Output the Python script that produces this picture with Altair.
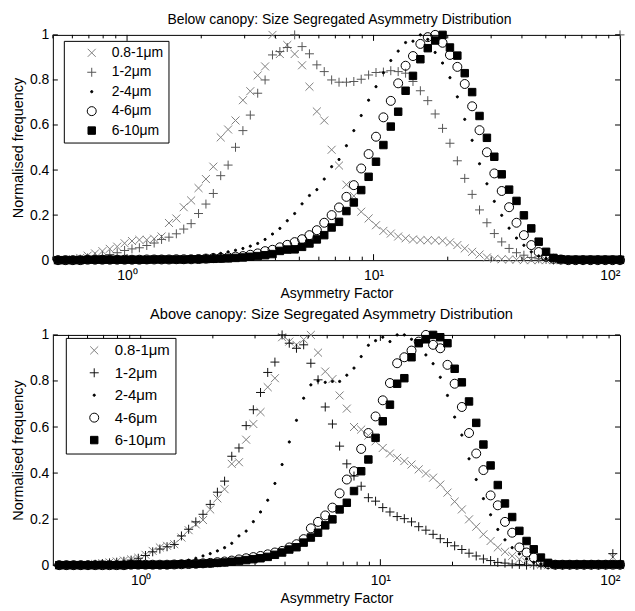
import altair as alt
import pandas as pd

# Asymmetry-factor bin centres (log-spaced bins)
X_BINS = [0.4571, 0.4898, 0.5248, 0.5623, 0.6026, 0.6457, 0.6918, 0.7413, 0.7943, 0.8511,
          0.9120, 0.9772, 1.0471, 1.1220, 1.2023, 1.2882, 1.3804, 1.4791, 1.5849, 1.6982,
          1.8197, 1.9498, 2.0893, 2.2387, 2.3988, 2.5704, 2.7542, 2.9512, 3.1623, 3.3884,
          3.6308, 3.8905, 4.1687, 4.4668, 4.7863, 5.1286, 5.4954, 5.8884, 6.3096, 6.7608,
          7.2444, 7.7625, 8.3176, 8.9125, 9.5499, 10.233, 10.965, 11.749, 12.589, 13.490,
          14.454, 15.488, 16.596, 17.783, 19.055, 20.417, 21.878, 23.442, 25.119, 26.915,
          28.840, 30.903, 33.113, 35.481, 38.019, 40.738, 43.652, 46.774, 50.119, 53.703,
          57.544, 61.660, 66.069, 70.795, 75.858, 81.283, 87.096, 93.325, 100.0]

SERIES = ["0.8-1\u03bcm", "1-2\u03bcm", "2-4\u03bcm", "4-6\u03bcm", "6-10\u03bcm"]

# ---- Below canopy ----
BELOW_X = [0, 0, 0, 0, 0.005, 0.01, 0.02, 0.03, 0.04, 0.05,
           0.06, 0.075, 0.085, 0.09, 0.09, 0.095, 0.105, 0.165, 0.185, 0.235,
           0.265, 0.32, 0.36, 0.415, 0.545, 0.58, 0.62, 0.71, 0.75, 0.82,
           0.86, 1.0, 0.915, 0.955, 0.915, 0.865, 0.77, 0.66, 0.62, 0.49,
           0.42, 0.335, 0.285, 0.215, 0.185, 0.155, 0.13, 0.118, 0.105, 0.097,
           0.092, 0.089, 0.088, 0.088, 0.086, 0.079, 0.067, 0.052, 0.037, 0.025,
           0.012, 0.006, 0.004, 0.003, 0.002, 0, 0, 0, 0, 0,
           0, 0, 0, 0, 0, 0, 0, 0, 0]
BELOW_P = [0, 0, 0, 0, 0, 0.005, 0.01, 0.015, 0.02, 0.025,
           0.033, 0.043, 0.05, 0.055, 0.065, 0.076, 0.092, 0.102, 0.117, 0.138,
           0.162, 0.207, 0.249, 0.296, 0.375, 0.422, 0.501, 0.575, 0.644, 0.741,
           0.80, 0.911, 0.926, 0.944, 1.0, 0.948, 0.916, 0.867, 0.837, 0.80,
           0.79, 0.79, 0.793, 0.803, 0.822, 0.833, 0.835, 0.841, 0.837, 0.83,
           0.793, 0.752, 0.708, 0.649, 0.585, 0.519, 0.441, 0.363, 0.292, 0.223,
           0.166, 0.118, 0.081, 0.052, 0.033, 0.022, 0.012, 0.006, 0.003, 0,
           0, 0, 0, 0, 0, 0, 0, 0, 1.0]
BELOW_D = [0, 0, 0, 0, 0, 0, 0, 0, 0, 0,
           0.002, 0.002, 0.002, 0.003, 0.003, 0.004, 0.005, 0.007, 0.009, 0.011,
           0.014, 0.017, 0.02, 0.025, 0.03, 0.037, 0.044, 0.052, 0.062, 0.074,
           0.092, 0.116, 0.141, 0.175, 0.207, 0.25, 0.287, 0.313, 0.36, 0.415,
           0.447, 0.508, 0.575, 0.642, 0.71, 0.77, 0.832, 0.886, 0.928, 0.966,
           0.972, 1.0, 0.98, 0.922, 0.875, 0.81, 0.725, 0.625, 0.532, 0.428,
           0.339, 0.261, 0.199, 0.142, 0.098, 0.066, 0.037, 0.018, 0.007, 0.003,
           0, 0, 0, 0, 0, 0, 0, 0, 0]
BELOW_C = [0, 0, 0, 0, 0, 0, 0.002, 0.002, 0.002, 0.002,
           0.002, 0.002, 0.002, 0.002, 0.003, 0.003, 0.003, 0.003, 0.004, 0.004,
           0.004, 0.005, 0.007, 0.009, 0.011, 0.013, 0.016, 0.018, 0.024, 0.03,
           0.04, 0.046, 0.057, 0.068, 0.08, 0.093, 0.111, 0.133, 0.166, 0.20,
           0.234, 0.281, 0.333, 0.407, 0.471, 0.548, 0.634, 0.707, 0.785, 0.863,
           0.906, 0.96, 0.99, 1.0, 0.965, 0.911, 0.858, 0.782, 0.683, 0.577,
           0.479, 0.385, 0.307, 0.235, 0.166, 0.111, 0.067, 0.036, 0.015, 0.006,
           0.003, 0, 0, 0, 0, 0, 0, 0, 0]
BELOW_S = [0, 0, 0, 0, 0, 0, 0.002, 0.002, 0.002, 0.002,
           0.002, 0.002, 0.002, 0.002, 0.002, 0.003, 0.003, 0.003, 0.003, 0.003,
           0.004, 0.004, 0.005, 0.006, 0.007, 0.008, 0.01, 0.012, 0.015, 0.018,
           0.022, 0.027, 0.041, 0.047, 0.048, 0.059, 0.074, 0.092, 0.111, 0.145,
           0.17, 0.218, 0.256, 0.311, 0.37, 0.437, 0.511, 0.593, 0.659, 0.752,
           0.818, 0.892, 0.941, 0.975, 1.0, 0.944, 0.908, 0.83, 0.746, 0.64,
           0.543, 0.459, 0.381, 0.313, 0.263, 0.199, 0.141, 0.082, 0.037, 0.01,
           0.004, 0.002, 0.002, 0.002, 0.002, 0.002, 0.002, 0.002, 0.002]

# ---- Above canopy ----
ABOVE_X = [0, 0, 0, 0, 0, 0.005, 0.008, 0.012, 0.016, 0.02,
           0.025, 0.032, 0.045, 0.062, 0.077, 0.084, 0.091, 0.12, 0.152, 0.177,
           0.196, 0.242, 0.29, 0.33, 0.44, 0.447, 0.545, 0.613, 0.665, 0.773,
           0.812, 0.99, 0.971, 0.957, 0.98, 1.0, 0.923, 0.841, 0.808, 0.737,
           0.68, 0.60, 0.589, 0.563, 0.538, 0.509, 0.485, 0.466, 0.452, 0.437,
           0.416, 0.398, 0.38, 0.35, 0.315, 0.276, 0.242, 0.199, 0.167, 0.134,
           0.105, 0.077, 0.058, 0.04, 0.026, 0.013, 0.005, 0.002, 0, 0,
           0, 0, 0, 0, 0, 0, 0, 0.035, 0]
ABOVE_P = [0, 0, 0, 0, 0, 0.004, 0.007, 0.01, 0.013, 0.017,
           0.022, 0.03, 0.042, 0.058, 0.07, 0.08, 0.09, 0.127, 0.156, 0.188,
           0.221, 0.264, 0.317, 0.365, 0.473, 0.509, 0.606, 0.675, 0.75, 0.837,
           0.882, 1.0, 0.964, 0.942, 0.957, 0.877, 0.805, 0.687, 0.613, 0.517,
           0.44, 0.387, 0.343, 0.293, 0.278, 0.25, 0.231, 0.211, 0.202, 0.188,
           0.167, 0.152, 0.134, 0.115, 0.098, 0.084, 0.068, 0.052, 0.04, 0.027,
           0.02, 0.012, 0.009, 0.005, 0.003, 0, 0, 0, 0, 0,
           0, 0, 0, 0, 0, 0, 0, 0.05, 0]
ABOVE_D = [0, 0, 0, 0, 0, 0, 0, 0, 0, 0,
           0.002, 0.003, 0.004, 0.006, 0.008, 0.01, 0.013, 0.017, 0.022, 0.03,
           0.04, 0.05, 0.062, 0.076, 0.095, 0.127, 0.148, 0.189, 0.231, 0.282,
           0.355, 0.437, 0.535, 0.629, 0.725, 0.783, 0.80, 0.794, 0.798, 0.798,
           0.825, 0.856, 0.906, 0.955, 0.975, 0.99, 0.971, 1.0, 1.0, 0.981,
           0.96, 0.913, 0.875, 0.816, 0.737, 0.643, 0.565, 0.462, 0.372, 0.289,
           0.219, 0.155, 0.11, 0.076, 0.049, 0.027, 0.012, 0.005, 0.002, 0,
           0, 0, 0, 0, 0, 0, 0, 0, 0]
ABOVE_C = [0, 0, 0, 0, 0, 0, 0, 0, 0, 0,
           0.002, 0.002, 0.002, 0.002, 0.002, 0.002, 0.003, 0.004, 0.005, 0.006,
           0.008, 0.01, 0.013, 0.016, 0.02, 0.025, 0.03, 0.035, 0.04, 0.047,
           0.055, 0.062, 0.077, 0.091, 0.113, 0.16, 0.188, 0.216, 0.25, 0.312,
           0.372, 0.408, 0.505, 0.574, 0.646, 0.716, 0.791, 0.877, 0.903, 0.932,
           0.971, 1.0, 0.957, 0.942, 0.87, 0.788, 0.687, 0.574, 0.485, 0.413,
           0.303, 0.26, 0.188, 0.141, 0.077, 0.055, 0.033, 0.012, 0.005, 0.002,
           0.002, 0.002, 0.002, 0.002, 0.002, 0.002, 0.002, 0.002, 0.002]
ABOVE_S = [0, 0, 0, 0, 0, 0, 0, 0, 0, 0,
           0.002, 0.002, 0.002, 0.002, 0.002, 0.002, 0.003, 0.004, 0.005, 0.006,
           0.007, 0.008, 0.01, 0.012, 0.015, 0.018, 0.022, 0.026, 0.03, 0.036,
           0.045, 0.055, 0.068, 0.078, 0.098, 0.12, 0.141, 0.173, 0.199, 0.242,
           0.271, 0.322, 0.408, 0.459, 0.553, 0.625, 0.697, 0.788, 0.812, 0.903,
           0.964, 0.981, 1.0, 0.99, 0.964, 0.853, 0.794, 0.711, 0.618, 0.524,
           0.433, 0.348, 0.268, 0.209, 0.149, 0.105, 0.069, 0.033, 0.01, 0.003,
           0.003, 0.003, 0.003, 0.003, 0.003, 0.003, 0.003, 0.003, 0.003]

X_TICK_VALUES = [1, 10, 100]
X_TICK_LABELS = ["10\u2070", "10\u00b9", "10\u00b2"]
Y_TICK_VALUES = [0, 0.2, 0.4, 0.6, 0.8, 1]
X_MINOR = [0.5, 0.6, 0.7, 0.8, 0.9, 2, 3, 4, 5, 6, 7, 8, 9,
           20, 30, 40, 50, 60, 70, 80, 90]
X_MAJOR = [1, 10]

FONT = "Liberation Sans"
XPATH = "M-1,-1L1,1M-1,1L1,-1"
PPATH = "M-1,0L1,0M0,-1L0,1"

label_expr = "datum.value == %g ? '%s' : datum.value == %g ? '%s' : '%s'" % (
    X_TICK_VALUES[0], X_TICK_LABELS[0], X_TICK_VALUES[1], X_TICK_LABELS[1], X_TICK_LABELS[2])

W = 569


def panel(series_vals, xmin, H, title, t_size, t_offset, t_dx, plus_color,
          leg_x, leg_y, leg_font, leg_row):
    rows = []
    for name, vals in zip(SERIES, series_vals):
        for xv, yv in zip(X_BINS, vals):
            if xv >= xmin:
                rows.append({"x": xv, "y": yv, "s": name})
    df = pd.DataFrame(rows)
    xs = alt.Scale(type="log", domain=[xmin, 100], nice=False)
    ys = alt.Scale(domain=[0, 1], nice=False, zero=False)
    leg = alt.Legend(orient="none", legendX=leg_x, legendY=leg_y, title=None,
                     strokeColor="black", fillColor="white", padding=5,
                     labelFontSize=leg_font, labelFont=FONT, labelColor="black",
                     rowPadding=leg_row, symbolOffset=16, labelOffset=13,
                     symbolStrokeWidth=1, cornerRadius=0)
    pts = alt.Chart(df).mark_point(filled=False, strokeWidth=1, opacity=1).encode(
        x=alt.X("x:Q", scale=xs,
                axis=alt.Axis(values=X_TICK_VALUES, labelExpr=label_expr,
                              title="Asymmetry Factor", labelPadding=8, titlePadding=4,
                              labelFlush=True, labelOverlap=False)),
        y=alt.Y("y:Q", scale=ys,
                axis=alt.Axis(values=Y_TICK_VALUES, format=".1~f",
                              title="Normalised frequency", labelPadding=4, titlePadding=4,
                              labelFlush=False, labelOverlap=False, titleFontSize=14.5)),
        shape=alt.Shape("s:N", scale=alt.Scale(domain=SERIES, range=[XPATH, PPATH, "circle", "circle", "square"]), legend=leg),
        size=alt.Size("s:N", scale=alt.Scale(type="ordinal", domain=SERIES, range=[64, 81, 5, 81, 56]), legend=leg),
        stroke=alt.Stroke("s:N", scale=alt.Scale(domain=SERIES, range=["#808080", plus_color, "black", "black", "black"]), legend=leg),
        fill=alt.Fill("s:N", scale=alt.Scale(domain=SERIES, range=["transparent", "transparent", "black", "transparent", "black"]), legend=leg),
    )
    minor_df = pd.DataFrame({"x": X_MINOR})
    major_df = pd.DataFrame({"x": X_MAJOR})
    ytick_df = pd.DataFrame({"y": Y_TICK_VALUES})
    rule = dict(color="black", strokeWidth=1)
    layers = [pts]
    for d, ln in ((minor_df, 3.5), (major_df, 6)):
        layers.append(alt.Chart(d).mark_rule(**rule).encode(
            x=alt.X("x:Q", scale=xs), y=alt.value(H), y2=alt.value(H - ln)))
        layers.append(alt.Chart(d).mark_rule(**rule).encode(
            x=alt.X("x:Q", scale=xs), y=alt.value(0), y2=alt.value(ln)))
    layers.append(alt.Chart(ytick_df).mark_rule(**rule).encode(
        y=alt.Y("y:Q", scale=ys), x=alt.value(0), x2=alt.value(5)))
    layers.append(alt.Chart(ytick_df).mark_rule(**rule).encode(
        y=alt.Y("y:Q", scale=ys), x=alt.value(W - 5), x2=alt.value(W)))
    return alt.layer(*layers).properties(
        width=W, height=H,
        title=alt.TitleParams(title, fontSize=t_size, font=FONT, fontWeight="normal",
                              color="black", anchor="middle", baseline="alphabetic",
                              frame="group", offset=t_offset, dx=t_dx))


top = panel([BELOW_X, BELOW_P, BELOW_D, BELOW_C, BELOW_S], 0.5, 226,
            "Below canopy: Size Segregated Asymmetry Distribution", 14, -10, 3, "#555555",
            11, 6, 14, 5.5)
bottom = panel([ABOVE_X, ABOVE_P, ABOVE_D, ABOVE_C, ABOVE_S], 0.43, 231,
               "Above canopy: Size Segregated Asymmetry Distribution", 14.7, -6, -5, "#111111",
               13, 3, 15, 6.5)

chart = alt.vconcat(top, bottom, spacing=75, bounds="flush").resolve_scale(
    x="independent", y="independent", shape="independent", size="independent",
    stroke="independent", fill="independent"
).configure_view(stroke="black", strokeWidth=1).configure_axis(
    labelFont=FONT, titleFont=FONT, labelFontSize=14, titleFontSize=14,
    titleFontWeight="normal", labelColor="black", titleColor="black",
    grid=False, ticks=False, domain=False
).properties(padding={"left": 2, "top": 3, "right": 0, "bottom": 2}, background="white")

chart.save("out.html", embed_options={"renderer": "svg", "actions": False})
